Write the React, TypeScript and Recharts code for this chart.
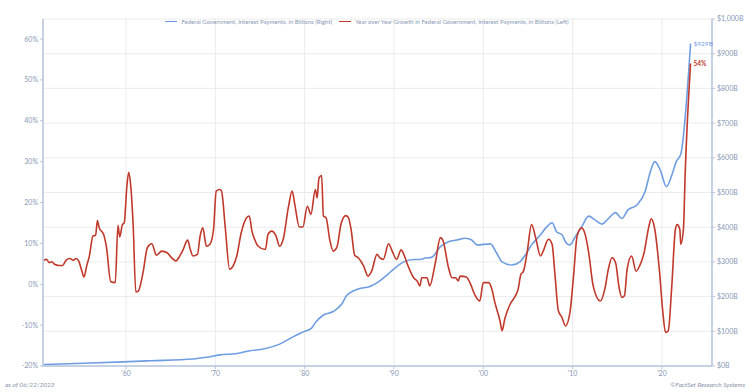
import { LineChart, Line, XAxis, YAxis, CartesianGrid } from 'recharts'

// Year over year growth, % (left axis)
const growthYears = [
  1950.8, 1951.1, 1951.4, 1951.7, 1952.0, 1952.5, 1952.9, 1953.3, 1953.7, 1954.1, 1954.4, 1954.7,
  1955.0, 1955.3, 1955.6, 1955.9, 1956.3, 1956.6, 1956.8, 1957.0, 1957.5, 1957.8, 1958.3, 1958.8,
  1959.1, 1959.3, 1959.6, 1959.8, 1960.1, 1960.3, 1960.5, 1960.8, 1961.1, 1961.4, 1961.9, 1962.4,
  1962.9, 1963.4, 1964.0, 1964.6, 1965.1, 1965.6, 1965.9, 1966.4, 1966.9, 1967.2, 1967.5, 1968.0,
  1968.3, 1968.6, 1969.0, 1969.4, 1969.8, 1970.1, 1970.5, 1970.7, 1971.1, 1971.6, 1972.0, 1972.4,
  1972.9, 1973.5, 1973.8, 1974.1, 1974.4, 1974.8, 1975.6, 1975.9, 1976.3, 1976.8, 1977.2, 1977.6,
  1978.2, 1978.6, 1978.9, 1979.4, 1979.8, 1980.3, 1980.7, 1981.2, 1981.4, 1981.6, 1981.9, 1982.1,
  1982.4, 1982.8, 1983.2, 1983.6, 1984.1, 1984.6, 1984.9, 1985.2, 1985.6, 1986.0, 1986.6, 1987.1,
  1987.5, 1988.1, 1988.4, 1988.8, 1989.4, 1989.8, 1990.3, 1990.8, 1991.1, 1991.5, 1992.2, 1992.6,
  1992.9, 1993.1, 1993.7, 1994.0, 1994.6, 1995.2, 1995.5, 1996.1, 1996.5, 1996.9, 1997.2, 1997.4,
  1998.1, 1998.5, 1999.1, 1999.6, 2000.0, 2000.6, 2000.9, 2001.3, 2001.9, 2002.1, 2002.4, 2003.0,
  2003.6, 2003.9, 2004.2, 2004.5, 2004.9, 2005.4, 2005.9, 2006.4, 2006.7, 2007.3, 2007.7, 2008.0,
  2008.4, 2008.8, 2009.2, 2009.7, 2010.1, 2010.5, 2011.0, 2011.4, 2011.8, 2012.3, 2013.1, 2013.6,
  2014.0, 2014.4, 2014.8, 2015.2, 2015.5, 2015.8, 2016.1, 2016.6, 2017.1, 2017.5, 2018.0, 2018.5,
  2018.8, 2019.2, 2019.7, 2020.1, 2020.4, 2020.7, 2021.1, 2021.5, 2021.7, 2022.0, 2022.1, 2022.4,
  2022.6, 2023.2,
]
const growthValues = [
  5.9, 6.1, 5.3, 5.5, 4.9, 4.6, 4.6, 5.9, 6.3, 5.9, 6.3, 5.7,
  3.7, 1.8, 4.5, 6.9, 11.8, 12.0, 15.6, 13.8, 12.2, 9.3, 0.6, 0.4,
  14.4, 11.6, 14.6, 15.0, 24.0, 27.4, 24.8, 14.6, -1.9, -1.6, 2.8, 9.0,
  9.9, 7.1, 8.1, 7.7, 6.5, 5.7, 6.5, 8.5, 10.8, 8.5, 6.9, 7.3,
  11.8, 13.8, 9.3, 9.8, 13.4, 22.8, 23.2, 22.8, 14.2, 3.7, 4.5, 6.9,
  12.6, 16.3, 16.7, 13.0, 11.0, 9.3, 8.5, 12.2, 13.0, 11.8, 9.3, 11.0,
  19.1, 22.8, 19.5, 14.0, 14.0, 19.1, 17.1, 23.2, 21.1, 26.0, 26.6, 16.7,
  16.3, 11.0, 8.1, 9.0, 15.0, 16.8, 16.3, 13.4, 7.1, 6.5, 4.5, 2.0,
  3.2, 7.3, 6.5, 6.1, 9.9, 8.1, 6.1, 8.4, 7.3, 4.9, 1.6, 0.8,
  -0.4, 1.6, 1.6, -0.4, 4.9, 11.4, 10.6, 4.1, 1.6, 1.6, 0.8, 2.0,
  1.8, 0.4, -2.8, -4.1, 0.4, 0.4, -0.8, -4.5, -9.3, -11.4, -8.5, -4.9,
  -2.8, -1.2, 2.4, 3.2, 7.7, 14.6, 11.0, 6.9, 8.1, 11.0, 9.8, 2.9,
  -6.5, -8.1, -10.2, -6.9, 2.0, 11.8, 13.8, 12.2, 7.7, -0.4, -4.1, -1.2,
  3.7, 6.5, 5.3, -0.8, -3.2, -2.8, 3.7, 6.9, 3.2, 4.5, 7.7, 13.8,
  16.0, 13.4, 3.7, -6.9, -11.8, -11.4, -0.4, 13.4, 14.6, 13.4, 9.8, 13.4,
  27.2, 54,
]

// Interest payments, $ billions (right axis)
const paymentYears = [
  1950.8, 1955.2, 1959.7, 1962.7, 1967.5, 1969.0, 1970.5, 1972.4, 1973.9, 1975.4, 1977.2, 1978.7,
  1979.9, 1980.8, 1981.2, 1982.1, 1983.2, 1984.2, 1984.7, 1986.0, 1987.3, 1988.3, 1989.2, 1990.1,
  1991.1, 1992.2, 1992.9, 1993.5, 1994.2, 1995.2, 1996.1, 1997.0, 1998.0, 1998.7, 1999.3, 2000.8,
  2001.5, 2002.1, 2003.2, 2004.1, 2004.7, 2005.4, 2006.4, 2007.1, 2007.7, 2008.2, 2008.8, 2009.3,
  2009.7, 2010.3, 2011.0, 2011.8, 2012.5, 2013.3, 2014.0, 2014.8, 2015.5, 2016.2, 2017.2, 2018.1,
  2018.7, 2019.2, 2019.8, 2020.5, 2021.1, 2021.6, 2022.1, 2023.2,
]
const paymentValues = [
  4, 8, 12, 15, 20, 25, 32, 36, 44, 49, 63, 84,
  99, 110, 125, 147, 157, 180, 203, 222, 229, 243, 262, 282,
  300, 307, 307, 311, 313, 344, 358, 363, 368, 363, 349, 352,
  325, 300, 291, 300, 320, 349, 378, 401, 413, 387, 378, 354,
  349, 373, 401, 432, 421, 409, 425, 442, 425, 450, 464, 502,
  560, 589, 565, 517, 550, 589, 610, 929,
]

const decadeTicks = [1960, 1970, 1980, 1990, 2000, 2010, 2020]
const pctTicks = [-20, -10, 0, 10, 20, 30, 40, 50, 60]
const dollarTicks = [0, 100, 200, 300, 400, 500, 600, 700, 800, 900, 1000]

const growthData = growthYears.map((year, i) => ({ year, v: growthValues[i] }))
const paymentData = paymentYears.map((year, i) => ({ year, v: paymentValues[i] }))

const BLUE = '#6f9de2'
const RED = '#c0392b'
const AXIS = '#b7c4de'
const TICK_TEXT = '#8797b5'
const FONT = 'Lato, "Open Sans", sans-serif'

const tickStyle = { fontSize: 7, fill: TICK_TEXT, fontFamily: FONT }

function EndLabel({ x, y, index, count, text, color, bold }: any) {
  if (index !== count - 1) return null
  return (
    <text x={x + 3} y={y + 2} fontSize={6.5} fill={color} fontWeight={bold ? 700 : 400} fontFamily={FONT}>
      {text}
    </text>
  )
}

export default function App() {
  return (
    <div style={{ position: 'absolute', left: 0, top: 0, width: 750, height: 392, background: '#fff', fontFamily: FONT }}>
      <LineChart width={750} height={392} margin={{ top: 19, right: 0, bottom: 0, left: 0 }}>
        <CartesianGrid yAxisId="right" stroke="#ebebeb" strokeWidth={1} />
        <XAxis
          dataKey="year"
          type="number"
          domain={[1950.71, 2025.6]}
          allowDataOverflow
          ticks={decadeTicks}
          tickFormatter={(v) => `'${String(v).slice(2)}`}
          tick={tickStyle}
          tickLine={{ stroke: AXIS }}
          tickSize={3}
          axisLine={{ stroke: AXIS, strokeWidth: 1.5 }}
          height={26}
        />
        <YAxis
          yAxisId="left"
          domain={[-20, 64.9]}
          allowDataOverflow
          ticks={pctTicks}
          tickFormatter={(v) => `${v}%`}
          tick={tickStyle}
          tickLine={{ stroke: AXIS }}
          tickSize={3}
          axisLine={{ stroke: AXIS, strokeWidth: 1.5 }}
          width={43}
        />
        <YAxis
          yAxisId="right"
          orientation="right"
          domain={[0, 1000]}
          ticks={dollarTicks}
          tickFormatter={(v) => `$${v.toLocaleString('en-US')}B`}
          tick={tickStyle}
          tickLine={{ stroke: AXIS }}
          tickSize={3}
          axisLine={{ stroke: AXIS, strokeWidth: 1.5 }}
          width={38}
        />
        <Line
          yAxisId="right"
          data={paymentData}
          dataKey="v"
          type="monotone"
          stroke={BLUE}
          strokeWidth={1.6}
          dot={false}
          isAnimationActive={false}
          label={(p: any) => <EndLabel {...p} count={paymentData.length} text="$929B" color={BLUE} />}
        />
        <Line
          yAxisId="left"
          data={growthData}
          dataKey="v"
          type="monotone"
          stroke={RED}
          strokeWidth={1.6}
          dot={false}
          isAnimationActive={false}
          label={(p: any) => <EndLabel {...p} count={growthData.length} text="54%" color={RED} bold />}
        />
      </LineChart>

      <div
        style={{
          position: 'absolute', top: 18, left: -8, width: 750, display: 'flex', justifyContent: 'center',
          alignItems: 'center', fontSize: 6, color: TICK_TEXT, gap: 4, whiteSpace: 'nowrap',
        }}
      >
        <span style={{ display: 'inline-block', width: 12, height: 1.5, background: BLUE }} />
        <span>Federal Government, Interest Payments, in Billions (Right)</span>
        <span style={{ display: 'inline-block', width: 12, height: 1.5, background: RED, marginLeft: 3 }} />
        <span>Year over Year Growth in Federal Government, Interest Payments, in Billions (Left)</span>
      </div>

      <div style={{ position: 'absolute', left: 5, top: 381, fontSize: 6.5, fontStyle: 'italic', color: '#8a93a8' }}>
        as of 06/22/2023
      </div>
      <div style={{ position: 'absolute', right: 5, top: 381, fontSize: 6.5, fontStyle: 'italic', color: '#8a93a8' }}>
        ©FactSet Research Systems
      </div>
    </div>
  )
}
